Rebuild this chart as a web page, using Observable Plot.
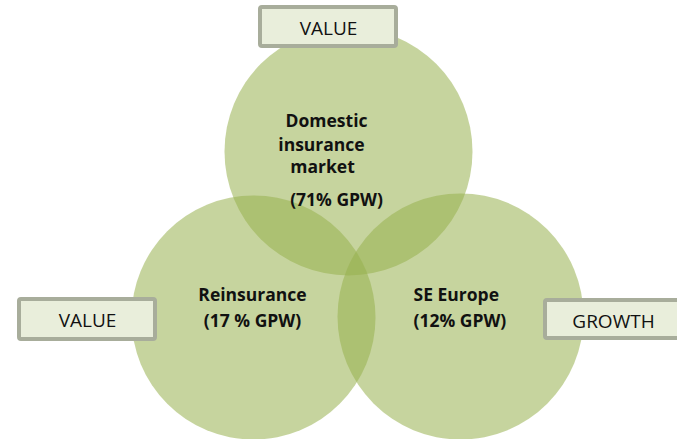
<!DOCTYPE html>
<html>
<head>
<meta charset="utf-8">
<script src="https://cdn.jsdelivr.net/npm/d3@7"></script>
<script src="https://cdn.jsdelivr.net/npm/@observablehq/plot@0.6"></script>
<style>
  html, body { margin: 0; padding: 0; background: #ffffff; }
  svg { display: block; }
</style>
</head>
<body>
<div id="chart"></div>
<script>
// ---- data ----
const segments = ["Domestic insurance market", "Reinsurance", "SE Europe"];
const gpwShare = [71, 17, 12];
const shareLabels = ["(71% GPW)", "(17 % GPW)", "(12% GPW)"];
const nameLines = [["Domestic", "insurance", "market"], ["Reinsurance"], ["SE Europe"]];
const tags = ["VALUE", "VALUE", "GROWTH"];

// ---- layout (pixel space of the slide) ----
const circleLayout = [
  {cx: 348, cy: 151, r: 124},
  {cx: 253, cy: 317, r: 122},
  {cx: 460, cy: 316, r: 123}
];
const nameLayout = [
  [{x: 326, y: 126, anchor: "middle"}, {x: 321, y: 150, anchor: "middle"}, {x: 322, y: 172, anchor: "middle"}],
  [{x: 252, y: 300, anchor: "middle"}],
  [{x: 413, y: 300, anchor: "start"}]
];
const shareLayout = [
  {x: 336, y: 205, anchor: "middle"},
  {x: 252, y: 326, anchor: "middle"},
  {x: 413, y: 326, anchor: "start"}
];
const tagLayout = [
  {x1: 260, x2: 396, y1: 7, y2: 46},
  {x1: 19, x2: 155, y1: 299, y2: 339},
  {x1: 545, x2: 700, y1: 300, y2: 338}
];
const tagTextLayout = [
  {x: 328, y: 34},
  {x: 87, y: 326},
  {x: 613, y: 327}
];

const circles = segments.map((s, i) => ({segment: s, share: gpwShare[i], ...circleLayout[i]}));
const labels = [
  ...nameLines.flatMap((lines, i) => lines.map((t, j) => ({text: t, ...nameLayout[i][j]}))),
  ...shareLabels.map((t, i) => ({text: t, ...shareLayout[i]}))
];
const labelsMiddle = labels.filter(d => d.anchor === "middle");
const labelsStart = labels.filter(d => d.anchor === "start");
const tagBoxes = tags.map((t, i) => ({text: t, ...tagLayout[i], ...tagTextLayout[i]}));

const font = "'Open Sans', 'DejaVu Sans', sans-serif";
const labelStyle = {x: "x", y: "y", text: "text", lineAnchor: "bottom", fontSize: 17.5,
  fontWeight: "bold", fill: "#111111", fontFamily: font};

const chart = Plot.plot({
  width: 677,
  height: 439,
  margin: 0,
  x: {domain: [0, 677], range: [0, 677]},
  y: {domain: [0, 439], range: [0, 439]},
  r: {type: "identity"},
  axis: null,
  style: {background: "#ffffff", fontFamily: font},
  marks: [
    Plot.dot(circles, {x: "cx", y: "cy", r: "r", fill: "#97b14f", fillOpacity: 0.55, stroke: "none", title: "segment"}),
    Plot.text(labelsMiddle, {...labelStyle, textAnchor: "middle"}),
    Plot.text(labelsStart, {...labelStyle, textAnchor: "start"}),
    Plot.rect(tagBoxes, {x1: "x1", x2: "x2", y1: "y1", y2: "y2", fill: "#e9eedb", stroke: "#a8ad9b",
      strokeWidth: 4, rx: 2}),
    Plot.text(tagBoxes, {x: "x", y: "y", text: "text", lineAnchor: "bottom", fontSize: 19,
      fill: "#111111", fontFamily: font})
  ]
});
document.getElementById("chart").appendChild(chart);
</script>
</body>
</html>
